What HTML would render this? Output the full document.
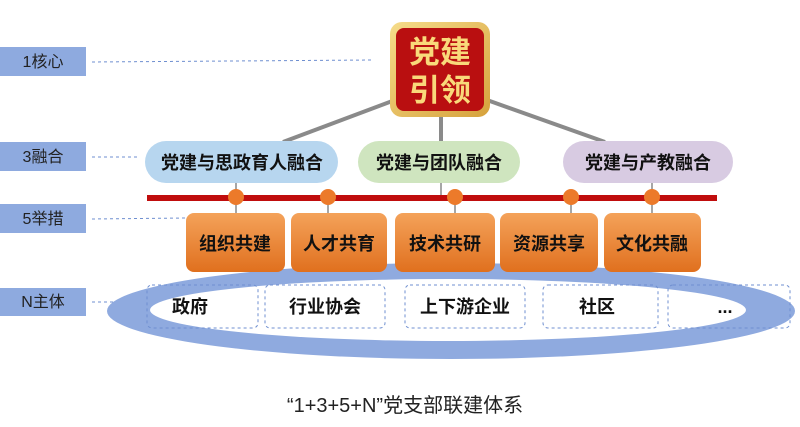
<!DOCTYPE html>
<html><head><meta charset="utf-8"><style>
html,body{margin:0;padding:0;background:#fff;}
svg text{font-family:"Liberation Sans","Noto Sans CJK SC",sans-serif;}
</style></head><body>
<svg width="800" height="422" viewBox="0 0 800 422" xmlns="http://www.w3.org/2000/svg">
<defs>
<linearGradient id="og" x1="0" y1="0" x2="0" y2="1"><stop offset="0" stop-color="#f4a25a"/><stop offset="1" stop-color="#e0701e"/></linearGradient>
<linearGradient id="gold" x1="0" y1="0" x2="1" y2="1"><stop offset="0" stop-color="#f6dc8a"/><stop offset="1" stop-color="#d6a23c"/></linearGradient>
</defs>
<g fill="#8eaadf">
<rect x="0" y="47" width="86" height="29"/>
<rect x="0" y="142" width="86" height="29"/>
<rect x="0" y="204" width="86" height="29"/>
<rect x="0" y="288" width="86" height="28"/>
</g>
<g font-size="16" fill="#222" text-anchor="middle">
<text x="43" y="67">1核心</text>
<text x="43" y="162">3融合</text>
<text x="43" y="224">5举措</text>
<text x="43" y="307">N主体</text>
</g>
<g stroke="#6f8fd0" stroke-dasharray="3,3" stroke-width="1">
<line x1="92" y1="62" x2="372" y2="60"/>
<line x1="92" y1="157" x2="138" y2="157"/>
<line x1="92" y1="219" x2="186" y2="218"/>
<line x1="92" y1="302" x2="140" y2="302"/>
</g>
<g stroke="#8a8a8a" stroke-width="4">
<line x1="395" y1="100" x2="283" y2="142"/>
<line x1="487" y1="100" x2="605" y2="142"/>
<line x1="441" y1="115" x2="441" y2="142"/>
</g>
<rect x="390" y="22" width="100" height="95" rx="12" fill="url(#gold)"/>
<rect x="396" y="28" width="88" height="83" rx="8" fill="#b90f10"/>
<g font-size="31" font-weight="bold" fill="#f9d97a" text-anchor="middle">
<text x="440" y="63">党建</text>
<text x="440" y="101">引领</text>
</g>
<rect x="145" y="141" width="193" height="42" rx="21" fill="#b7d6ef"/>
<rect x="358" y="141" width="162" height="42" rx="21" fill="#cfe5bf"/>
<rect x="563" y="141" width="170" height="42" rx="21" fill="#d8cbe2"/>
<g font-size="18" font-weight="bold" fill="#111" text-anchor="middle">
<text x="242" y="169">党建与思政育人融合</text>
<text x="439" y="169">党建与团队融合</text>
<text x="648" y="169">党建与产教融合</text>
</g>
<g stroke="#888" stroke-width="1.5">
<line x1="236" y1="183" x2="236" y2="197"/><line x1="441" y1="183" x2="441" y2="197"/><line x1="652" y1="183" x2="652" y2="197"/>
<line x1="236" y1="197" x2="236" y2="214"/><line x1="328" y1="197" x2="328" y2="214"/><line x1="455" y1="197" x2="455" y2="214"/><line x1="571" y1="197" x2="571" y2="214"/><line x1="652" y1="197" x2="652" y2="214"/>
</g>
<rect x="147" y="195" width="570" height="6" fill="#c00d0d"/>
<g fill="#ec7a2a">
<circle cx="236" cy="197" r="8"/><circle cx="328" cy="197" r="8"/><circle cx="455" cy="197" r="8"/><circle cx="571" cy="197" r="8"/><circle cx="652" cy="197" r="8"/>
</g>
<ellipse cx="451" cy="311" rx="344" ry="48" fill="#8faadf"/>
<ellipse cx="448" cy="310" rx="298" ry="31" fill="#fff"/>
<g fill="url(#og)">
<rect x="186" y="213" width="99" height="59" rx="8"/>
<rect x="291" y="213" width="96" height="59" rx="8"/>
<rect x="395" y="213" width="100" height="59" rx="8"/>
<rect x="500" y="213" width="98" height="59" rx="8"/>
<rect x="604" y="213" width="97" height="59" rx="8"/>
</g>
<g font-size="18" font-weight="bold" fill="#111" text-anchor="middle">
<text x="235" y="250">组织共建</text>
<text x="339" y="250">人才共育</text>
<text x="445" y="250">技术共研</text>
<text x="549" y="250">资源共享</text>
<text x="652" y="250">文化共融</text>
</g>
<g fill="none" stroke="#6f8fd0" stroke-dasharray="3,3" stroke-width="1">
<rect x="147" y="285" width="111" height="43" rx="5"/>
<rect x="265" y="285" width="120" height="43" rx="5"/>
<rect x="405" y="285" width="120" height="43" rx="5"/>
<rect x="543" y="285" width="115" height="43" rx="5"/>
<rect x="668" y="285" width="122" height="43" rx="5"/>
</g>
<g font-size="18" font-weight="bold" fill="#111" text-anchor="middle">
<text x="190" y="313">政府</text>
<text x="325" y="313">行业协会</text>
<text x="465" y="313">上下游企业</text>
<text x="597" y="313">社区</text>
<text x="725" y="313">...</text>
</g>
<text x="405" y="412" font-size="20" fill="#222" text-anchor="middle">“1+3+5+N”党支部联建体系</text>
</svg>
</body></html>
